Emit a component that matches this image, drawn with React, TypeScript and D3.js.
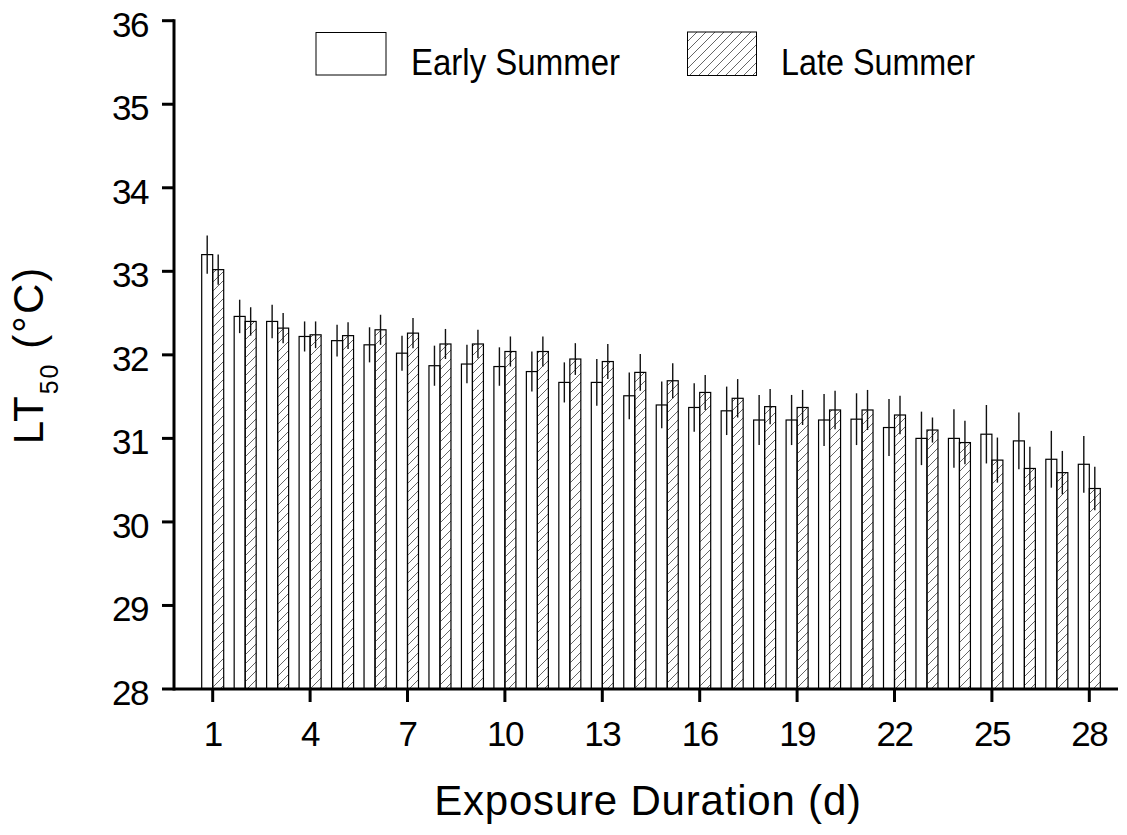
import React from "react";
import * as d3 from "d3";

// Exposure duration in days
const days: number[] = d3.range(1, 29);

// LT50 means (°C) and error half-widths for each season
const earlySummer: number[] = [
  33.2, 32.46, 32.4, 32.22, 32.17, 32.12, 32.02, 31.87, 31.89, 31.86, 31.8, 31.67, 31.67, 31.51,
  31.4, 31.37, 31.33, 31.22, 31.22, 31.22, 31.23, 31.13, 31.0, 31.0, 31.05, 30.97, 30.75, 30.69,
];
const earlyErr: number[] = [
  0.23, 0.2, 0.2, 0.18, 0.19, 0.21, 0.21, 0.24, 0.23, 0.23, 0.24, 0.24, 0.28, 0.28,
  0.28, 0.29, 0.29, 0.3, 0.3, 0.31, 0.31, 0.34, 0.32, 0.35, 0.35, 0.34, 0.34, 0.34,
];
const lateSummer: number[] = [
  33.02, 32.4, 32.32, 32.24, 32.23, 32.3, 32.26, 32.13, 32.13, 32.04, 32.04, 31.95, 31.92, 31.79,
  31.69, 31.55, 31.48, 31.38, 31.37, 31.34, 31.34, 31.28, 31.1, 30.95, 30.74, 30.64, 30.59, 30.4,
];
const lateErr: number[] = [
  0.18, 0.17, 0.18, 0.16, 0.16, 0.18, 0.18, 0.18, 0.17, 0.18, 0.18, 0.19, 0.21, 0.22,
  0.21, 0.21, 0.23, 0.21, 0.21, 0.23, 0.24, 0.23, 0.15, 0.26, 0.27, 0.26, 0.26, 0.26,
];

const xTicks: number[] = [1, 4, 7, 10, 13, 16, 19, 22, 25, 28];
const yTicks: number[] = [28, 29, 30, 31, 32, 33, 34, 35, 36];

const seriesNames = ["Early Summer", "Late Summer"];

const W = 1127;
const H = 835;
const FONT = "'Liberation Sans', Arial, Helvetica, sans-serif";

export default function App() {
  const axisX = 174;
  const axisRight = 1118;
  const x = d3.scaleLinear().domain([1, 28]).range([212.7, 1089.3]);
  const y = d3.scaleLinear().domain([28, 36]).range([689, 20.7]);
  const barW = 11;
  const base = y(28);

  return (
    <svg
      width={W}
      height={H}
      viewBox={`0 0 ${W} ${H}`}
      style={{ position: "absolute", left: 0, top: 0, background: "#fff" }}
      fontFamily={FONT}
    >
      <defs>
        <pattern id="hatch" patternUnits="userSpaceOnUse" width={9} height={9}>
          <path d="M-1,10 L10,-1 M-3,3 L3,-3 M6,12 L12,6" stroke="#555" strokeWidth={0.9} />
        </pattern>
      </defs>
      <rect x={0} y={0} width={W} height={H} fill="#fff" />

      {/* bars */}
      {days.map((d, i) => {
        const cx = x(d);
        const e = earlySummer[i];
        const l = lateSummer[i];
        return (
          <g key={d}>
            <rect
              x={cx - barW}
              y={y(e)}
              width={barW}
              height={base - y(e)}
              fill="#fff"
              stroke="#000"
              strokeWidth={1.2}
            />
            <rect
              x={cx}
              y={y(l)}
              width={barW}
              height={base - y(l)}
              fill="url(#hatch)"
              stroke="#000"
              strokeWidth={1.2}
            />
            <line
              x1={cx - barW / 2}
              x2={cx - barW / 2}
              y1={y(e + earlyErr[i])}
              y2={y(e - earlyErr[i])}
              stroke="#111"
              strokeWidth={1.4}
            />
            <line
              x1={cx + barW / 2}
              x2={cx + barW / 2}
              y1={y(l + lateErr[i])}
              y2={y(l - lateErr[i])}
              stroke="#111"
              strokeWidth={1.4}
            />
          </g>
        );
      })}

      {/* y axis */}
      <line x1={axisX} x2={axisX} y1={y(36) - 1.5} y2={base + 1.5} stroke="#000" strokeWidth={3} />
      {yTicks.map((t) => (
        <g key={t}>
          <line x1={axisX - 12} x2={axisX} y1={y(t)} y2={y(t)} stroke="#000" strokeWidth={3} />
          <text
            x={148}
            y={y(t) + 16}
            textAnchor="end"
            fontSize={35}
            letterSpacing={-1.5}
            fill="#000"
          >
            {t}
          </text>
        </g>
      ))}

      {/* x axis */}
      <line x1={axisX} x2={axisRight} y1={base} y2={base} stroke="#000" strokeWidth={3} />
      {xTicks.map((t) => (
        <g key={t}>
          <line x1={x(t)} x2={x(t)} y1={base} y2={base + 13} stroke="#000" strokeWidth={3} />
          <text x={x(t)} y={746} textAnchor="middle" fontSize={35} letterSpacing={-1.5} fill="#000">
            {t}
          </text>
        </g>
      ))}

      {/* axis titles */}
      <text
        x={648}
        y={815}
        textAnchor="middle"
        fontSize={42}
        letterSpacing={0.8}
        fill="#000"
      >
        Exposure Duration (d)
      </text>
      <text
        transform="translate(43,355) rotate(-90)"
        textAnchor="middle"
        fontSize={42}
        letterSpacing={2}
        fill="#000"
      >
        <tspan>LT</tspan>
        <tspan fontSize={25} dy={15}>
          50
        </tspan>
        <tspan dy={-15}> (°C)</tspan>
      </text>

      {/* legend */}
      <rect x={316} y={32.5} width={70} height={42.5} fill="#fff" stroke="#000" strokeWidth={1} />
      <text x={411} y={74.5} fontSize={37} textLength={209} lengthAdjust="spacingAndGlyphs" fill="#000">
        {seriesNames[0]}
      </text>
      <rect x={687.5} y={32} width={69} height={43.5} fill="url(#hatch)" stroke="#000" strokeWidth={1} />
      <text x={781} y={74.5} fontSize={37} textLength={194} lengthAdjust="spacingAndGlyphs" fill="#000">
        {seriesNames[1]}
      </text>
    </svg>
  );
}
